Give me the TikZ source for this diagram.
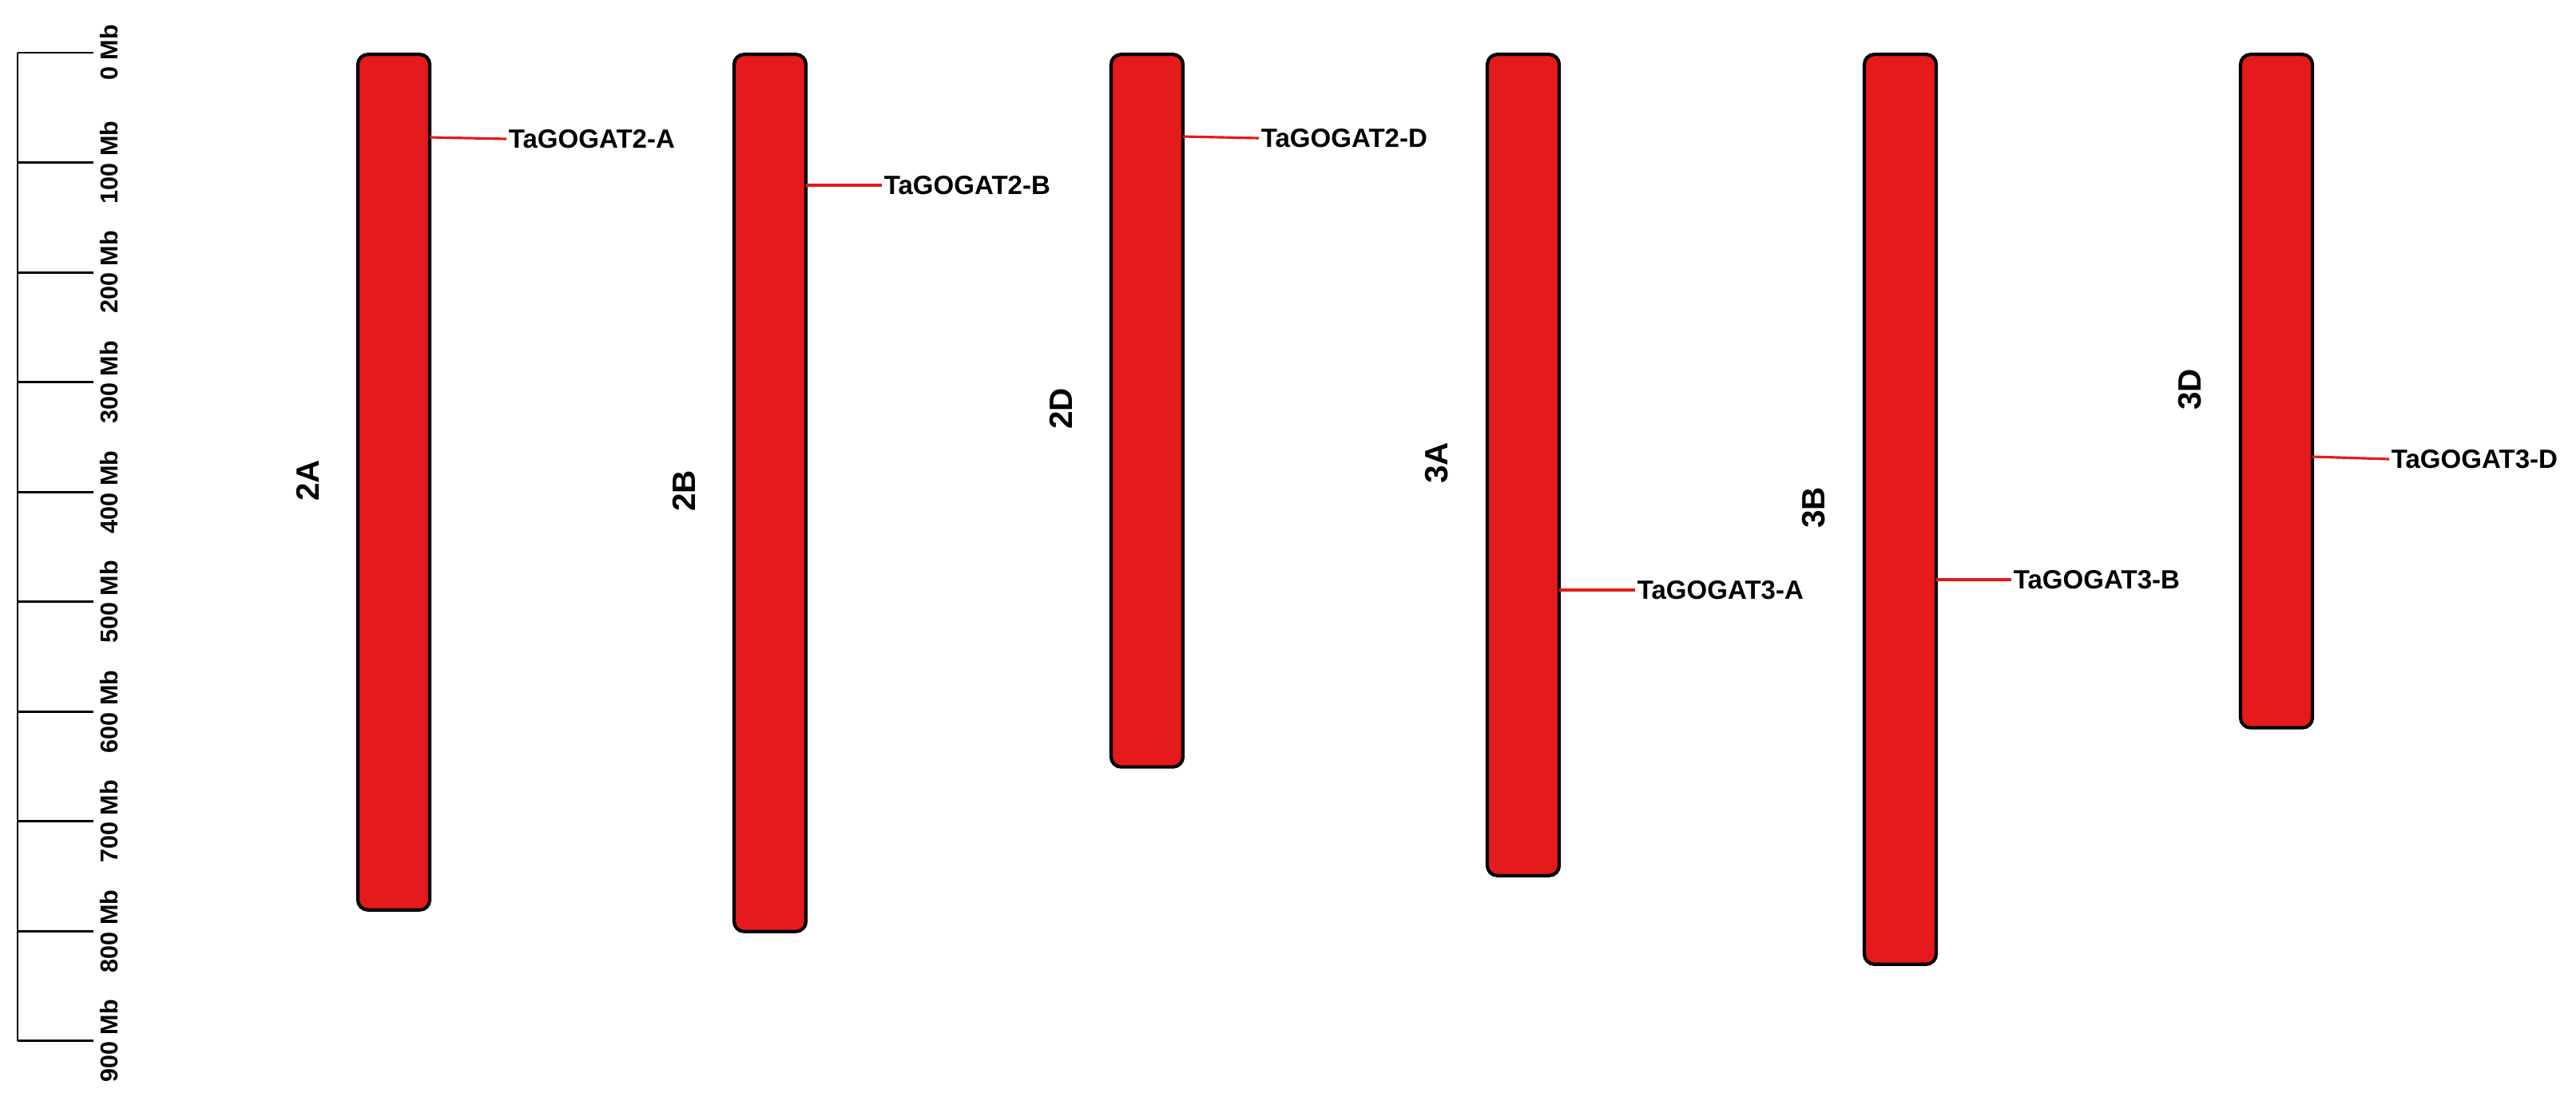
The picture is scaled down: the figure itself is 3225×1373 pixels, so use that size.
\documentclass[tikz,border=0pt]{standalone}
\usepackage{fontspec}
\setmainfont{Liberation Sans}
\usetikzlibrary{positioning}
\definecolor{chromred}{HTML}{E41A1C}

\begin{document}
\begin{tikzpicture}[x=0.01cm, y=-0.01cm,
    chrom/.style={draw=black, line width=1.2pt, fill=chromred, rounded corners=3.6pt,
      minimum width=0.9cm, inner sep=0pt, anchor=north},
    chromlabel/.style={rotate=90, inner sep=0pt, font=\fontsize{11.5}{13}\selectfont\bfseries},
    gene/.style={anchor=west, inner sep=0.6pt, font=\fontsize{9.4}{11}\selectfont\bfseries},
    genelink/.style={draw=chromred, line width=0.9pt},
    ruler/.style={line width=0.85pt},
    rulerlabel/.style={rotate=90, inner sep=0pt, font=\fontsize{8.7}{10}\selectfont\bfseries}]
  \useasboundingbox[fill=white] (0,0) rectangle (3225,1373);

  % Escala
  \draw[ruler] (22,66) -- (22,1304);
  \foreach \m/\lab in {0/0,1/100,2/200,3/300,4/400,5/500,6/600,7/700,8/800,9/900} {
    \draw[ruler] (22,{66+137.55*\m}) -- (117,{66+137.55*\m});
    \node[rulerlabel] (t\m) at (137,{66+137.55*\m}) {\lab{} Mb};
  }

  % Cromosomas
  \node[chrom, minimum height=10.71cm] (c2A) at (493,66) {};
  \node[chrom, minimum height=10.98cm] (c2B) at (964,66) {};
  \node[chrom, minimum height=8.92cm] (c2D) at (1436,66) {};
  \node[chrom, minimum height=10.28cm] (c3A) at (1907,66) {};
  \node[chrom, minimum height=11.39cm] (c3B) at (2379,66) {};
  \node[chrom, minimum height=8.43cm] (c3D) at (2850,66) {};

  \node[chromlabel] (l2A) at (385,602) {2A};
  \node[chromlabel] (l2B) at (856,615) {2B};
  \node[chromlabel] (l2D) at (1328,512) {2D};
  \node[chromlabel] (l3A) at (1799,580) {3A};
  \node[chromlabel] (l3B) at (2271,636) {3B};
  \node[chromlabel] (l3D) at (2742,488) {3D};

  % Genes
  \coordinate (g2A) at (538,172);
  \coordinate (g2B) at (1009,232);
  \coordinate (g2D) at (1481,171);
  \coordinate (g3A) at (1952,739);
  \coordinate (g3B) at (2424,726);
  \coordinate (g3D) at (2895,572);

  \node[gene] (n2A) at (634,174) {TaGOGAT2-A};
  \node[gene] (n2B) at (1104,232) {TaGOGAT2-B};
  \node[gene] (n2D) at (1576,173) {TaGOGAT2-D};
  \node[gene] (n3A) at (2047,739) {TaGOGAT3-A};
  \node[gene] (n3B) at (2518,726) {TaGOGAT3-B};
  \node[gene] (n3D) at (2991,575) {TaGOGAT3-D};

  \draw[genelink] (g2A) -- (n2A.west);
  \draw[genelink] (g2B) -- (n2B.west);
  \draw[genelink] (g2D) -- (n2D.west);
  \draw[genelink] (g3A) -- (n3A.west);
  \draw[genelink] (g3B) -- (n3B.west);
  \draw[genelink] (g3D) -- (n3D.west);
\end{tikzpicture}
\end{document}
